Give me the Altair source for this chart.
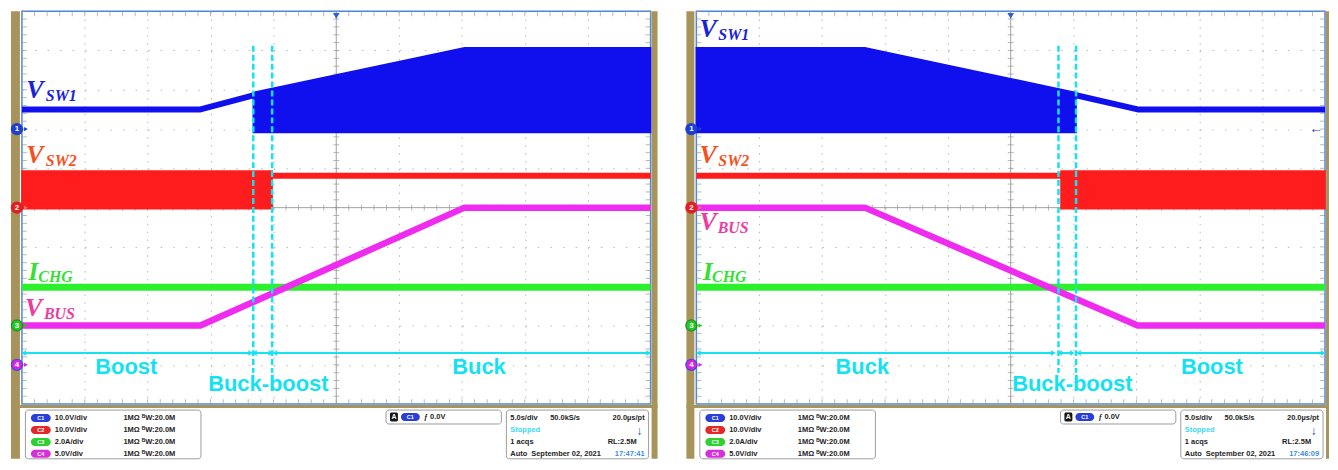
import altair as alt
import pandas as pd

# =====================================================================
# Values read from the two oscilloscope captures
# time in s (5.0 s/div x 10 div), voltages in V, current in A
# =====================================================================

# ---- left capture: Boost -> Buck-boost -> Buck (17:47:41) ----
L_VSW1_LINE_T = [0.0, 14.2, 18.4]
L_VSW1_LINE_V = [5.0, 5.0, 8.6]
L_VSW1_SW_T = [18.4, 35.2, 50.0]
L_VSW1_SW_HI = [9.3, 20.7, 20.7]
L_VSW1_SW_LO = [-0.9, -0.9, -0.9]
L_VSW2_SW_T = [0.0, 19.9]
L_VSW2_SW_HI = [9.3, 9.3]
L_VSW2_SW_LO = [-0.3, -0.3]
L_VSW2_LINE_T = [19.9, 50.0]
L_VSW2_LINE_V = [8.1, 8.1]
L_ICHG_T = [0.0, 50.0]
L_ICHG_A = [1.95, 1.95]
L_VBUS_T = [0.0, 14.2, 35.2, 50.0]
L_VBUS_V = [5.0, 5.0, 20.0, 20.0]
L_BOUND_T = [18.4, 19.9]
L_MODES = ["Boost", "Buck-boost", "Buck"]
L_SEG_FROM = [0.15, 18.5, 20.1]
L_SEG_TO = [18.2, 19.8, 49.85]
L_CLOCK = "17:47:41"

# ---- right capture: Buck -> Buck-boost -> Boost (17:46:09) ----
R_VSW1_SW_T = [0.0, 13.4, 30.2]
R_VSW1_SW_HI = [20.7, 20.7, 9.3]
R_VSW1_SW_LO = [-0.9, -0.9, -0.9]
R_VSW1_LINE_T = [30.2, 35.1, 50.0]
R_VSW1_LINE_V = [8.6, 5.0, 5.0]
R_VSW2_LINE_T = [0.0, 29.0]
R_VSW2_LINE_V = [8.1, 8.1]
R_VSW2_SW_T = [29.0, 50.0]
R_VSW2_SW_HI = [9.3, 9.3]
R_VSW2_SW_LO = [-0.3, -0.3]
R_ICHG_T = [0.0, 50.0]
R_ICHG_A = [1.95, 1.95]
R_VBUS_T = [0.0, 13.4, 35.1, 50.0]
R_VBUS_V = [20.0, 20.0, 5.0, 5.0]
R_BOUND_T = [28.8, 30.2]
R_MODES = ["Buck", "Buck-boost", "Boost"]
R_SEG_FROM = [0.15, 28.9, 30.4]
R_SEG_TO = [28.4, 29.9, 49.85]
R_CLOCK = "17:46:09"

# ---- scope settings (shared) ----
T_SPAN = [0, 50]
CH1_DOMAIN = [-70, 30]   # 10 V/div, ground 7 div up
CH2_DOMAIN = [-50, 50]   # 10 V/div, ground 5 div up
CH3_DOMAIN = [-4, 16]    # 2 A/div, ground 2 div up
CH4_DOMAIN = [-5, 45]    # 5 V/div, ground 1 div up
DIV_DOMAIN = [0, 10]
CH_SETTINGS = ["10.0V/div", "10.0V/div", "2.0A/div", "5.0V/div"]
SIG_MAIN = ["V", "V", "I", "V"]
SIG_SUB = ["SW1", "SW2", "CHG", "BUS"]

# ---- annotation anchors (time s, division) ----
L_MODE_T = [8.3, 19.6, 36.35]
R_MODE_T = [13.2, 29.9, 41.0]
MODE_D = [0.95, 0.5, 0.95]
L_LBL = dict(mt=[0.35, 0.35, 0.5, 0.25], md=[7.79, 6.14, 3.165, 2.24],
             st=[1.9, 1.9, 1.3, 1.75], sd=[7.72, 6.07, 3.11, 2.17])
R_LBL = dict(mt=[0.25, 0.25, 0.5, 0.25], md=[9.34, 6.14, 3.165, 4.42],
             st=[1.75, 1.75, 1.25, 1.7], sd=[9.27, 6.07, 3.11, 4.35])

# ---- styling ----
W, H = 632, 395
TAN = "#A8935A"
GRID_C = "#B8B8B8"
TICK_C = "#9A9A9A"
FRAME_C = "#4A88DA"
CYAN = "#14E2F0"
TR_BLUE, TR_RED, TR_GREEN, TR_MAG = "#1010EE", "#FF1C1C", "#2BF02B", "#EE2BEE"
LB_COLORS = ["#1A22D8", "#F4511E", "#36DF36", "#EC3CA0"]
PILL = ["#2A3FD8", "#E42828", "#2FD02F", "#D830D8"]
INFO_FONT = "Liberation Sans"

MAJOR_T = [5, 10, 15, 20, 30, 35, 40, 45]
MAJOR_D = [1, 2, 3, 4, 6, 7, 8, 9]
MINOR_T = [i * 1.0 for i in range(51)]
MINOR_D = [i * 0.2 for i in range(51)]
EDGE_TICK = 5  # px, drawn inside the frame
EDGE_DT = (EDGE_TICK / 2) / (W / 50)
EDGE_DD = (EDGE_TICK / 2) / (H / 10)

XS = alt.Scale(domain=T_SPAN, nice=False, zero=False)
X_AXIS = alt.Axis(values=MAJOR_T, grid=True, gridColor=GRID_C,
                  gridDash=[1.5, H / 50 - 1.5], gridWidth=1, labels=False,
                  ticks=False, domain=False, title=None)
ONE = pd.DataFrame({"k": [0]})


def X(field="t"):
    return alt.X(f"{field}:Q", scale=XS, axis=X_AXIS)


def sc(dom):
    return alt.Scale(domain=dom, nice=False, zero=False)


def Yd(field="d"):
    return alt.Y(f"{field}:Q", scale=sc(DIV_DOMAIN), axis=None)


def Yc(dom, field="v"):
    return alt.Y(f"{field}:Q", scale=sc(dom), axis=None)


def ptext(x, y, s, color="#1E1E1E", size=7.5, align="left", weight="bold"):
    return alt.Chart(ONE).mark_text(
        text=s, align=align, baseline="middle", fontSize=size,
        fontWeight=weight, font=INFO_FONT, color=color
    ).encode(x=alt.value(x), y=alt.value(y))


def prect(x, x2, y, y2, fill, stroke=None, radius=0):
    kw = dict(fill=fill, cornerRadius=radius, opacity=1)
    if stroke:
        kw.update(stroke=stroke, strokeWidth=1)
    return alt.Chart(ONE).mark_rect(**kw).encode(
        x=alt.value(x), x2=alt.value(x2), y=alt.value(y), y2=alt.value(y2))


def line(t, v, color, width, dom):
    df = pd.DataFrame({"t": t, "v": v})
    return alt.Chart(df).mark_line(
        color=color, strokeWidth=width, strokeCap="butt", strokeJoin="round"
    ).encode(x=X(), y=Yc(dom))


def band(t, hi, lo, color, dom):
    df = pd.DataFrame({"t": t, "hi": hi, "lo": lo})
    return alt.Chart(df).mark_area(
        color=color, opacity=1, stroke=color, strokeWidth=1.5
    ).encode(x=X(), y=Yc(dom, "hi"), y2=alt.Y2("lo:Q"))


def ticks(t_list, d_list, orient, size):
    df = pd.DataFrame([(t, d) for t in t_list for d in d_list], columns=["t", "d"])
    return alt.Chart(df).mark_tick(
        orient=orient, size=size, thickness=1, color=TICK_C
    ).encode(x=X(), y=Yd())


def info_layers(clock, lead, tail):
    L = []
    bottom = H + 55
    # tan frame of the instrument screen
    L.append(prect(-lead, -2, 0, bottom, TAN))
    L.append(prect(W + 1, W + tail, 0, bottom, TAN))
    L.append(prect(-lead, W + tail, H + 1, H + 4, TAN))
    rows = [H + 14, H + 26, H + 38, H + 50]
    # channel box
    L.append(prect(3.5, 180, H + 6, bottom, "white", "#9C9C9C", 3))
    for i in range(4):
        L.append(prect(9, 29, rows[i] - 4, rows[i] + 4, PILL[i], None, 4))
        L.append(ptext(19, rows[i], f"C{i + 1}", "white", 5.5, "center"))
        L.append(ptext(33, rows[i], CH_SETTINGS[i]))
        L.append(ptext(102, rows[i], "1MΩ ᴮW:20.0M"))
    # trigger box
    L.append(prect(366, 482, H + 6, H + 20, "white", "#9C9C9C", 3))
    L.append(prect(370, 378, H + 8.5, H + 17.5, "#151515", None, 1.5))
    L.append(ptext(374, H + 13, "A", "white", 7, "center"))
    L.append(prect(381, 400, H + 9, H + 17, PILL[0], None, 4))
    L.append(ptext(390.5, H + 13, "C1", "white", 5.5, "center"))
    L.append(ptext(404, H + 13, "ƒ 0.0V"))
    # acquisition box
    L.append(prect(487, 630, H + 6, bottom, "white", "#9C9C9C", 3))
    L.append(ptext(491, rows[0], "5.0s/div"))
    L.append(ptext(531, rows[0], "50.0kS/s"))
    L.append(ptext(626, rows[0], "20.0µs/pt", align="right"))
    L.append(ptext(491, rows[1], "Stopped", "#3CD8F2"))
    L.append(ptext(621, rows[1] + 1, "↓", "#1B3FD8", 12, "center"))
    L.append(ptext(491, rows[2], "1 acqs"))
    L.append(ptext(618, rows[2], "RL:2.5M", align="right"))
    L.append(ptext(491, rows[3], "Auto"))
    L.append(ptext(512, rows[3], "September 02, 2021"))
    L.append(ptext(626, rows[3], clock, "#3A8DE6", align="right"))
    return L


def panel(cap, lead, tail):
    layers = info_layers(cap["clock"], lead, tail)

    # graticule
    grid = alt.Chart(pd.DataFrame({"t": [0, 50], "d": [0, 10]})).mark_point(
        opacity=0, size=0
    ).encode(
        x=X(),
        y=alt.Y("d:Q", scale=sc(DIV_DOMAIN),
                axis=alt.Axis(values=MAJOR_D, grid=True, gridColor=GRID_C,
                              gridDash=[1.5, W / 50 - 1.5], gridWidth=1,
                              labels=False, ticks=False, domain=False, title=None)),
    )
    layers.append(grid)
    layers.append(alt.Chart(pd.DataFrame({"t": [25]})).mark_rule(
        color="#A0A0A0", strokeWidth=1).encode(x=X()))
    layers.append(alt.Chart(pd.DataFrame({"d": [5]})).mark_rule(
        color="#A0A0A0", strokeWidth=1).encode(y=Yd()))
    layers.append(ticks(MINOR_T, [EDGE_DD, 10 - EDGE_DD], "vertical", EDGE_TICK))
    layers.append(ticks(MINOR_T, [5], "vertical", 6))
    layers.append(ticks([EDGE_DT, 50 - EDGE_DT], MINOR_D, "horizontal", EDGE_TICK))
    layers.append(ticks([25], MINOR_D, "horizontal", 6))

    # channel-1 offset indicator at the right edge
    layers.append(alt.Chart(pd.DataFrame({"v": [0]})).mark_text(
        text="←", align="right", baseline="middle", fontSize=14,
        fontWeight="bold", color="#1E40C8"
    ).encode(x=alt.value(W - 2), y=Yc(CH1_DOMAIN)))

    # traces
    layers.append(band(cap["vsw1_sw_t"], cap["vsw1_sw_hi"], cap["vsw1_sw_lo"], TR_BLUE, CH1_DOMAIN))
    layers.append(line(cap["vsw1_line_t"], cap["vsw1_line_v"], TR_BLUE, 6, CH1_DOMAIN))
    layers.append(band(cap["vsw2_sw_t"], cap["vsw2_sw_hi"], cap["vsw2_sw_lo"], TR_RED, CH2_DOMAIN))
    layers.append(line(cap["vsw2_line_t"], cap["vsw2_line_v"], TR_RED, 6, CH2_DOMAIN))
    layers.append(line(cap["ichg_t"], cap["ichg_a"], TR_GREEN, 7, CH3_DOMAIN))
    layers.append(line(cap["vbus_t"], cap["vbus_v"], TR_MAG, 6.5, CH4_DOMAIN))

    # channel ground markers
    marker_cols = [("#1E3FD0", "#1E3FD0"), ("#E02020", "#E02020"),
                   ("#22C822", "#2A8A2A"), ("#E020E0", "#3050E0")]
    arrow_cols = ["#1E3FD0", "#E07070", "#22C822", "#E020E0"]
    for i, dom in enumerate([CH1_DOMAIN, CH2_DOMAIN, CH3_DOMAIN, CH4_DOMAIN]):
        d0 = pd.DataFrame({"v": [0]})
        layers.append(alt.Chart(d0).mark_circle(
            size=125, color=marker_cols[i][0], stroke=marker_cols[i][1],
            strokeWidth=1.2, opacity=1).encode(x=alt.value(-5), y=Yc(dom)))
        layers.append(alt.Chart(d0).mark_text(
            text=str(i + 1), color="white", fontSize=8, fontWeight="bold",
            baseline="middle", align="center").encode(x=alt.value(-5), y=Yc(dom)))
        layers.append(alt.Chart(d0).mark_point(
            shape="triangle-right", filled=True, size=18, color=arrow_cols[i],
            opacity=1).encode(x=alt.value(4), y=Yc(dom)))

    # mode boundaries (dashed)
    layers.append(alt.Chart(pd.DataFrame({"t": cap["bound_t"], "d1": 9.12, "d2": 0.8})).mark_rule(
        color=CYAN, strokeWidth=2.5, strokeDash=[6, 3]
    ).encode(x=X(), y=Yd("d1"), y2=alt.Y2("d2:Q")))

    # mode arrows
    seg = pd.DataFrame({"t": cap["seg_from"], "t2": cap["seg_to"], "d": 1.3})
    layers.append(alt.Chart(seg).mark_rule(color=CYAN, strokeWidth=2).encode(
        x=X(), x2=alt.X2("t2:Q"), y=Yd()))
    heads = pd.DataFrame({
        "t": list(cap["seg_from"]) + list(cap["seg_to"]),
        "s": ["triangle-left"] * 3 + ["triangle-right"] * 3,
        "d": 1.3,
    })
    layers.append(alt.Chart(heads).mark_point(
        filled=True, size=30, color=CYAN, opacity=1).encode(
        x=X(), y=Yd(), shape=alt.Shape("s:N", scale=None)))

    # mode names
    modes = pd.DataFrame({"t": cap["mode_t"], "d": MODE_D, "s": cap["modes"]})
    layers.append(alt.Chart(modes).mark_text(
        font="Liberation Sans", fontWeight="bold", fontSize=22, color=CYAN,
        align="center", baseline="middle").encode(x=X(), y=Yd(), text="s:N"))

    # signal labels
    lb = cap["lbl"]
    main = pd.DataFrame({"t": lb["mt"], "d": lb["md"], "s": SIG_MAIN, "c": LB_COLORS})
    sub = pd.DataFrame({"t": lb["st"], "d": lb["sd"], "s": SIG_SUB, "c": LB_COLORS})
    layers.append(alt.Chart(main).mark_text(
        font="Liberation Serif", fontStyle="italic", fontWeight="bold", fontSize=26,
        align="left", baseline="alphabetic").encode(
        x=X(), y=Yd(), text="s:N", color=alt.Color("c:N", scale=None)))
    layers.append(alt.Chart(sub).mark_text(
        font="Liberation Serif", fontStyle="italic", fontWeight="bold", fontSize=16,
        align="left", baseline="alphabetic").encode(
        x=X(), y=Yd(), text="s:N", color=alt.Color("c:N", scale=None)))

    # trigger position marker
    layers.append(alt.Chart(pd.DataFrame({"t": [25], "d": [9.88]})).mark_point(
        shape="triangle-down", filled=True, size=45, color="#2F5FD5", opacity=1
    ).encode(x=X(), y=Yd()))

    return alt.layer(*layers).resolve_scale(y="independent").properties(width=W, height=H)


LEFT = dict(
    vsw1_line_t=L_VSW1_LINE_T, vsw1_line_v=L_VSW1_LINE_V,
    vsw1_sw_t=L_VSW1_SW_T, vsw1_sw_hi=L_VSW1_SW_HI, vsw1_sw_lo=L_VSW1_SW_LO,
    vsw2_sw_t=L_VSW2_SW_T, vsw2_sw_hi=L_VSW2_SW_HI, vsw2_sw_lo=L_VSW2_SW_LO,
    vsw2_line_t=L_VSW2_LINE_T, vsw2_line_v=L_VSW2_LINE_V,
    ichg_t=L_ICHG_T, ichg_a=L_ICHG_A, vbus_t=L_VBUS_T, vbus_v=L_VBUS_V,
    bound_t=L_BOUND_T, modes=L_MODES, mode_t=L_MODE_T,
    seg_from=L_SEG_FROM, seg_to=L_SEG_TO, lbl=L_LBL, clock=L_CLOCK,
)
RIGHT = dict(
    vsw1_line_t=R_VSW1_LINE_T, vsw1_line_v=R_VSW1_LINE_V,
    vsw1_sw_t=R_VSW1_SW_T, vsw1_sw_hi=R_VSW1_SW_HI, vsw1_sw_lo=R_VSW1_SW_LO,
    vsw2_sw_t=R_VSW2_SW_T, vsw2_sw_hi=R_VSW2_SW_HI, vsw2_sw_lo=R_VSW2_SW_LO,
    vsw2_line_t=R_VSW2_LINE_T, vsw2_line_v=R_VSW2_LINE_V,
    ichg_t=R_ICHG_T, ichg_a=R_ICHG_A, vbus_t=R_VBUS_T, vbus_v=R_VBUS_V,
    bound_t=R_BOUND_T, modes=R_MODES, mode_t=R_MODE_T,
    seg_from=R_SEG_FROM, seg_to=R_SEG_TO, lbl=R_LBL, clock=R_CLOCK,
)

chart = alt.hconcat(
    panel(LEFT, 11, 7), panel(RIGHT, 10, 4), spacing=24
).properties(padding=0, background="white").configure_view(
    stroke=FRAME_C, strokeWidth=1.5
)

chart.save("out.html", embed_options={"renderer": "svg", "actions": False})
